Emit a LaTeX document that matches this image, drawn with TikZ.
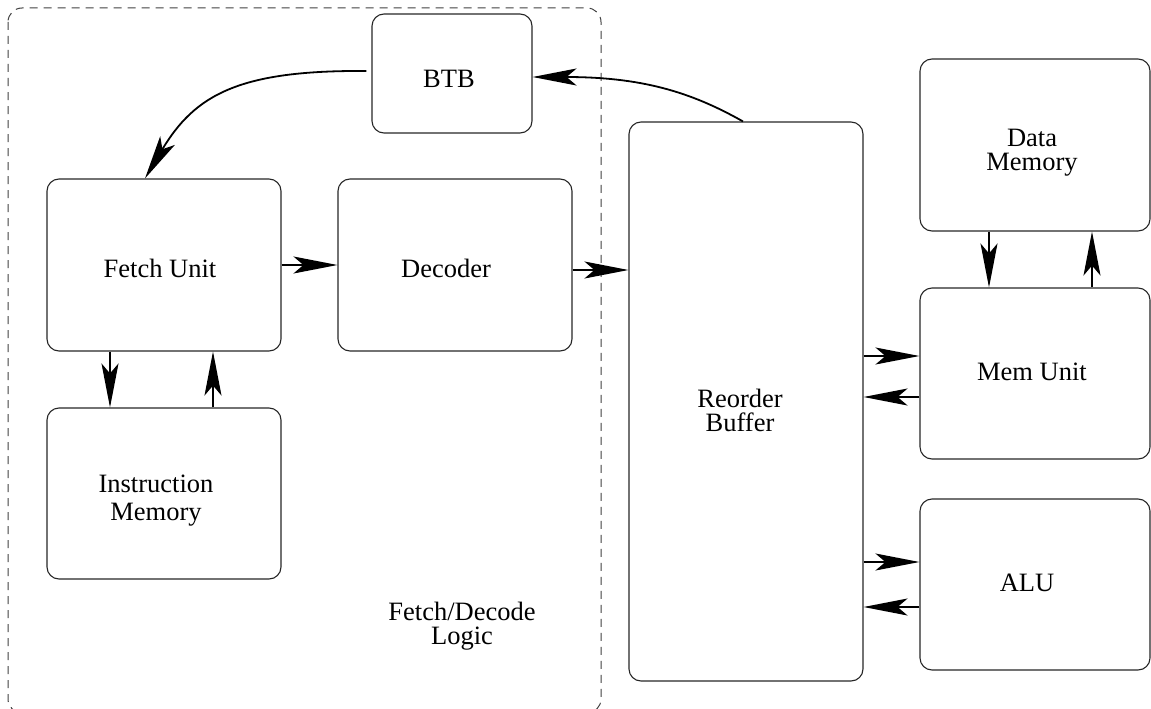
\documentclass[tikz,border=0pt]{standalone}
\usepackage{fontspec}
\setmainfont{Liberation Serif}
\usetikzlibrary{arrows.meta}
\begin{document}
\begin{tikzpicture}[x=1pt,y=-1pt,
  box/.style={draw=black!85, line width=1.1pt, rounded corners=12pt, inner sep=0pt},
  arr/.style={line width=1.8pt, -{Stealth[length=44pt,width=17pt,inset=10pt]}},
  grp/.style={draw=black!75, line width=1pt, dash pattern=on 8pt off 6pt, rounded corners=14pt},
  lbl/.style={align=center, inner sep=0pt}]
\useasboundingbox (0,0) rectangle (1151,709);
\clip (0,0) rectangle (1151,709);
\fontsize{26.5}{24}\selectfont
% group frame
\draw[grp] (8,8) rectangle (601,713);
% boxes
\node[box, minimum width=160pt, minimum height=119pt,
  label={[lbl,xshift=-3pt,yshift=-5pt]center:BTB}] (btb) at (452,73.5) {};
\node[box, minimum width=234pt, minimum height=172pt,
  label={[lbl,xshift=-4pt,yshift=-3pt]center:Fetch Unit}] (fetch) at (164,265) {};
\node[box, minimum width=234pt, minimum height=172pt,
  label={[lbl,xshift=-9pt,yshift=-3pt]center:Decoder}] (dec) at (455,265) {};
\node[box, minimum width=234pt, minimum height=171pt,
  label={[lbl,xshift=-8pt,yshift=-7pt]center:Instruction\\[4pt]Memory}] (im) at (164,493.5) {};
\node[box, minimum width=234pt, minimum height=559pt,
  label={[lbl,xshift=-6pt,yshift=-9pt]center:Reorder\\Buffer}] (rob) at (746,401.5) {};
\node[box, minimum width=230pt, minimum height=172pt,
  label={[lbl,xshift=-3pt,yshift=-8pt]center:Data\\Memory}] (dm) at (1035,145) {};
\node[box, minimum width=230pt, minimum height=171pt,
  label={[lbl,xshift=-3pt,yshift=2pt]center:Mem Unit}] (mu) at (1035,373.5) {};
\node[box, minimum width=230pt, minimum height=171pt,
  label={[lbl,xshift=-8pt,yshift=2pt]center:ALU}] (alu) at (1035,584.5) {};
\node[lbl] (fdl) at (462,626) {Fetch/Decode\\Logic};
% connectors
\draw[arr] ([xshift=-5pt,yshift=2.5pt]btb.west) .. controls +(-127,-1) and +(50,-84) .. ([xshift=-19pt]fetch.north);
\draw[arr] ([xshift=-3pt]rob.north) .. controls +(-53,-30) and +(108,0) .. ([yshift=-3.5pt]btb.east);
\draw[arr] (fetch.east) -- (dec.west);
\draw[arr] ([yshift=-5pt]dec.east) -- ([yshift=-5pt]dec.east -| rob.west);
\draw[arr] ([xshift=-54pt]fetch.south) -- ([xshift=-54pt]im.north);
\draw[arr] ([xshift=49pt]im.north) -- ([xshift=49pt]fetch.south);
\draw[arr] ([xshift=-46pt]dm.south) -- ([xshift=-46pt]mu.north);
\draw[arr] ([xshift=57pt]mu.north) -- ([xshift=57pt]dm.south);
\draw[arr] ([yshift=17.5pt]mu.west -| rob.east) -- ([yshift=17.5pt]mu.west);
\draw[arr] ([yshift=-23.5pt]mu.west) -- ([yshift=-23.5pt]mu.west -| rob.east);
\draw[arr] ([yshift=22.5pt]alu.west -| rob.east) -- ([yshift=22.5pt]alu.west);
\draw[arr] ([yshift=-22.5pt]alu.west) -- ([yshift=-22.5pt]alu.west -| rob.east);
\end{tikzpicture}
\end{document}
